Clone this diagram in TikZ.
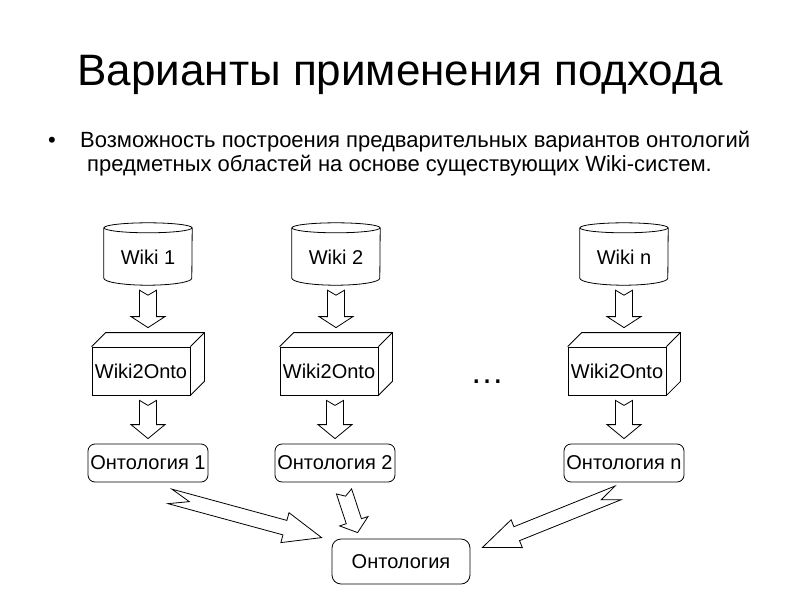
\documentclass[tikz,border=0pt]{standalone}
\usepackage{fontspec}
\setmainfont{Liberation Sans}
\usetikzlibrary{calc}
\tikzset{
  lbl/.style={inner sep=0pt, font=\fontsize{20}{22}\selectfont},
  cyltext/.style={lbl, minimum width=88pt, minimum height=50pt},
  boxfront/.style={lbl, draw, line width=0.8pt, minimum width=98pt, minimum height=48pt},
  ontbox/.style={lbl, draw, line width=0.8pt, rounded corners=7pt, minimum width=120pt, minimum height=38pt},
  blk/.style={draw, line width=0.8pt, fill=white, line join=miter},
  outl/.style={line width=0.8pt},
  bodytext/.style={inner sep=0pt, anchor=base west, font=\fontsize{22}{24}\selectfont},
}
\newcommand\cylsketch[1]{%
  \draw[outl, fill=white] (#1.north west) -- (#1.south west)
     arc[start angle=180, end angle=360, x radius=44pt, y radius=7pt] -- (#1.north east);
  \draw[outl] (#1.north) ellipse[x radius=44pt, y radius=5pt];
}
\newcommand\boxsketch[1]{%
  \draw[outl, line join=miter] (#1.north west) -- ++(14,-14) -- ($(#1.north east)+(14,-14)$)
     -- ($(#1.south east)+(14,-14)$) -- (#1.south east);
  \draw[outl] (#1.north east) -- ++(14,-14);
}
% tail, tip, shaft half-width, head half-width, head length, notch depth
\newcommand\blockarrow[6]{%
  \coordinate (ta) at (#1);
  \coordinate (tb) at (#2);
  \coordinate (hb) at ($(tb)!#5!(ta)$);
  \coordinate (nt) at ($(ta)!#6!(tb)$);
  \draw[blk] ($(ta)!#3!90:(tb)$) -- ($(hb)!#3!90:(tb)$) -- ($(hb)!#4!90:(tb)$) -- (tb)
     -- ($(hb)!#4!-90:(tb)$) -- ($(hb)!#3!-90:(tb)$) -- ($(ta)!#3!-90:(tb)$) -- (nt) -- cycle;
}
\begin{document}
\begin{tikzpicture}[x=1pt, y=-1pt]
\useasboundingbox (0,0) rectangle (800,600);

% title and bullet
\node[inner sep=0pt, anchor=base, font=\fontsize{44}{48}\selectfont] (title) at (400,85) {Варианты применения подхода};
\node[bodytext] (bul) at (48,147) {•};
\node[bodytext] (l1) at (80,147) {Возможность построения предварительных вариантов онтологий};
\node[bodytext] (l2) at (87,171) {предметных областей на основе существующих Wiki-систем.};

% cylinders
\node[cyltext] (w1) at (148,253) {};
\node[cyltext] (w2) at (336,253) {};
\node[cyltext] (wn) at (624,253) {};
\cylsketch{w1}\cylsketch{w2}\cylsketch{wn}
\node[lbl] at ($(w1)+(0,4)$) {Wiki 1};
\node[lbl] at ($(w2)+(0,4)$) {Wiki 2};
\node[lbl] at ($(wn)+(0,4)$) {Wiki n};

% Wiki2Onto boxes
\node[boxfront] (b1) at (141,371) {Wiki2Onto};
\node[boxfront] (b2) at (329,371) {Wiki2Onto};
\node[boxfront] (bn) at (617,371) {Wiki2Onto};
\boxsketch{b1}\boxsketch{b2}\boxsketch{bn}

% ontology boxes
\node[ontbox] (o1) at (148,463) {Онтология 1};
\node[ontbox] (o2) at (335,463) {Онтология 2};
\node[ontbox] (on) at (624,463) {Онтология n};
\node[ontbox, minimum width=138pt, minimum height=45pt, rounded corners=9pt] (O) at (401,561.5) {Онтология};

% dots
\node[inner sep=0pt, anchor=base, font=\fontsize{34}{36}\selectfont] (dots) at (487,383) {…};

% vertical block arrows
\blockarrow{$(w1.south)+(0,12)$}{$(w1.south |- b1.north)+(0,-19)$}{8.5pt}{17pt}{11pt}{5pt}
\blockarrow{$(w2.south)+(0,12)$}{$(w2.south |- b2.north)+(0,-19)$}{8.5pt}{17pt}{11pt}{5pt}
\blockarrow{$(wn.south)+(0,12)$}{$(wn.south |- bn.north)+(0,-19)$}{8.5pt}{17pt}{11pt}{5pt}
\blockarrow{$(o1.north |- b1.south)+(0,5)$}{$(o1.north)+(0,-5)$}{8.5pt}{17pt}{14pt}{5pt}
\blockarrow{$(o2.north |- b2.south)+(0,5)$}{$(o2.north)+(0,-5)$}{8.5pt}{17pt}{14pt}{5pt}
\blockarrow{$(on.north |- bn.south)+(0,5)$}{$(on.north)+(0,-5)$}{8.5pt}{17pt}{14pt}{5pt}

% converging block arrows
\blockarrow{$(o1.south)+(22,14)$}{$(O.north west)+(-10,-1)$}{7.5pt}{15.5pt}{38pt}{20pt}
\blockarrow{$(o2.south)+(9,9)$}{$(O.north west)+(26,-6)$}{8pt}{15pt}{12pt}{5pt}
\blockarrow{$(on.south)+(-6,10.5)$}{$(O.east)+(12,-14)$}{7.5pt}{15pt}{37pt}{18pt}
\end{tikzpicture}
\end{document}
